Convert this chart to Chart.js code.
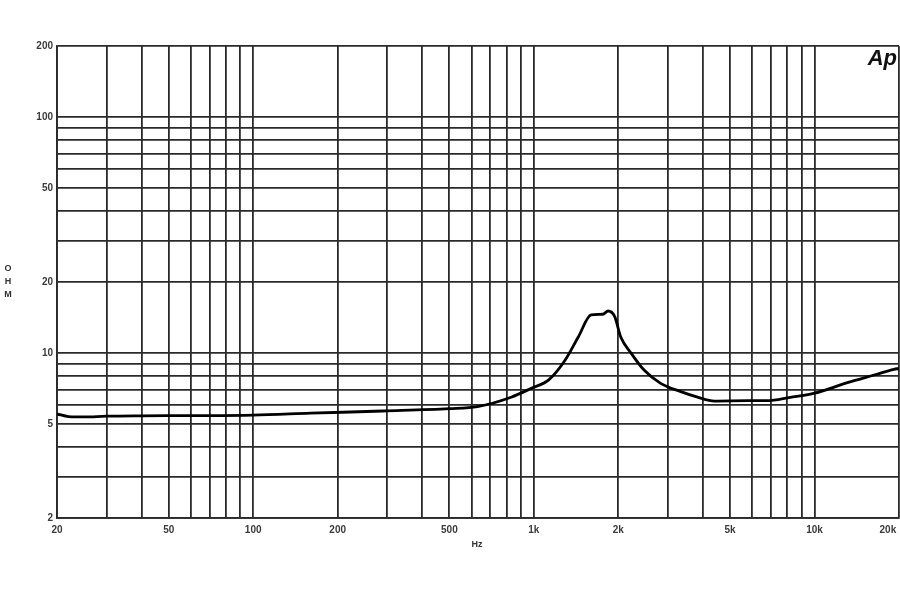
<!DOCTYPE html>
<html>
<head>
<meta charset="utf-8">
<script src="https://cdn.jsdelivr.net/npm/chart.js@4/dist/chart.umd.min.js"></script>
<style>
html,body{margin:0;padding:0;background:#fff;}
#wrap{width:900px;height:600px;}
</style>
</head>
<body>
<div id="wrap"><canvas id="c" width="900" height="600"></canvas></div>
<script>
// Frequency (Hz) and impedance (ohm)
const freqs = [20, 22, 25, 30, 40, 60, 100, 160, 290, 500, 630, 830, 980, 1130, 1290, 1440, 1600, 1760, 1840, 1940, 2040, 2220, 2470, 2830, 3340, 3830, 4400, 5770, 6780, 8200, 9920, 13100, 16300, 19200, 20000];
const ohms  = [5.52, 5.38, 5.36, 5.4, 5.42, 5.43, 5.46, 5.56, 5.68, 5.81, 5.93, 6.5, 7.09, 7.7, 9.3, 11.7, 14.5, 14.6, 15.07, 14.3, 11.7, 10.0, 8.47, 7.44, 6.86, 6.5, 6.26, 6.28, 6.28, 6.49, 6.74, 7.49, 8.07, 8.53, 8.6];

const xGrid = [20,30,40,50,60,70,80,90,100,200,300,400,500,600,700,800,900,1000,2000,3000,4000,5000,6000,7000,8000,9000,10000,20000];
const xLabels = {20:'20',50:'50',100:'100',200:'200',500:'500',1000:'1k',2000:'2k',5000:'5k',10000:'10k',20000:'20k        '};
const yGrid = [2,3,4,5,6,7,8,9,10,20,30,40,50,60,70,80,90,100,200];
const yLabels = {2:'2',5:'5',10:'10',20:'20',50:'50',100:'100',200:'200'};

const gridColor = '#2a2a2a';
const tickFont = {family:'Liberation Sans', size:10, weight:'bold'};

const textPlugin = {
  id:'texts',
  afterDraw(chart){
    const ctx = chart.ctx;
    ctx.save();
    ctx.fillStyle = '#333';
    ctx.font = 'bold 9px "Liberation Sans"';
    ctx.textAlign = 'center';
    ctx.textBaseline = 'middle';
    const letters = ['O','H','M'];
    letters.forEach((ch,i)=>ctx.fillText(ch, 8, 269 + i*13));
    ctx.fillText('Hz', 477, 545);
    ctx.fillStyle = '#111';
    ctx.font = 'italic bold 22px "Liberation Sans"';
    ctx.textAlign = 'right';
    ctx.textBaseline = 'alphabetic';
    ctx.fillText('Ap', 897, 65);
    ctx.restore();
  }
};

new Chart(document.getElementById('c'), {
  type:'line',
  data:{
    datasets:[{
      data: freqs.map((f,i)=>({x:f, y:ohms[i]})),
      borderColor:'#000',
      borderWidth:2.8,
      pointRadius:0,
      cubicInterpolationMode:'monotone',
      fill:false
    }]
  },
  options:{
    responsive:false,
    animation:false,
    layout:{padding:{top:46,right:1,left:0,bottom:0}},
    plugins:{legend:{display:false},tooltip:{enabled:false}},
    scales:{
      x:{
        type:'logarithmic',
        min:20, max:20000,
        afterBuildTicks(s){ s.ticks = xGrid.map(v=>({value:v})); },
        afterFit(s){ s.height = 82; s.paddingRight = 0; s.paddingLeft = 0; },
        grid:{color:gridColor, lineWidth:1.8, drawTicks:false},
        border:{color:gridColor, width:1.8},
        ticks:{autoSkip:false, maxRotation:0, padding:6, color:'#3a3a3a', font:tickFont,
          callback(v){ return xLabels[v] || ''; }}
      },
      y:{
        type:'logarithmic',
        min:2, max:200,
        afterBuildTicks(s){ s.ticks = yGrid.map(v=>({value:v})); },
        afterFit(s){ s.width = 57; s.paddingTop = 0; s.paddingBottom = 0; },
        grid:{color:gridColor, lineWidth:1.8, drawTicks:false},
        border:{color:gridColor, width:1.8},
        ticks:{autoSkip:false, padding:4, color:'#3a3a3a', font:tickFont,
          callback(v){ return yLabels[v] || ''; }}
      }
    }
  },
  plugins:[textPlugin]
});
</script>
</body>
</html>
